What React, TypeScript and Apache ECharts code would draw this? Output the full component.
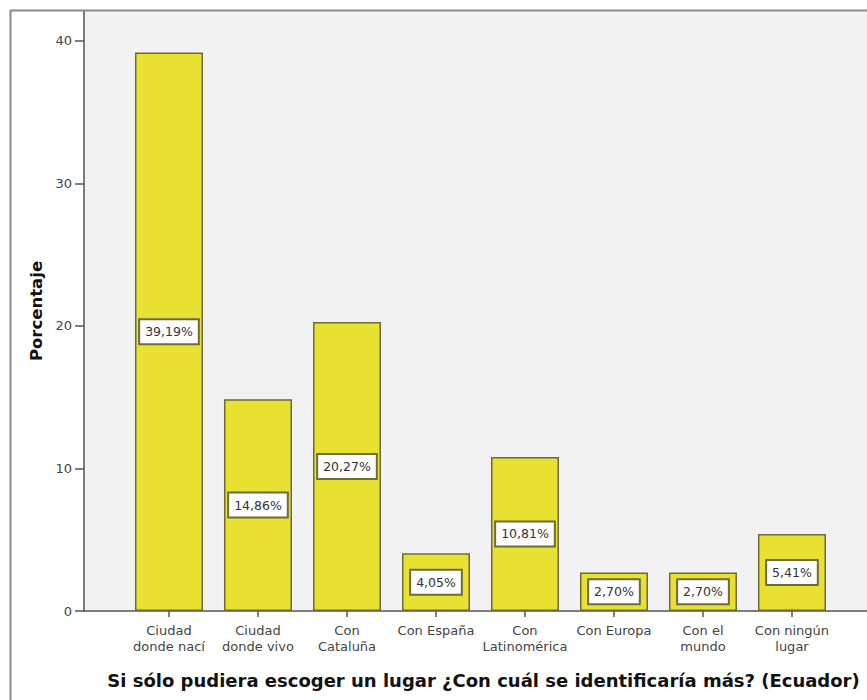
import React, { useEffect, useRef } from "react";
import * as echarts from "echarts";

const categories = [
  "Ciudad\ndonde nací",
  "Ciudad\ndonde vivo",
  "Con\nCataluña",
  "Con España",
  "Con\nLatinomérica",
  "Con Europa",
  "Con el\nmundo",
  "Con ningún\nlugar",
];
const values = [39.19, 14.86, 20.27, 4.05, 10.81, 2.7, 2.7, 5.41];
const yTicks = [0, 10, 20, 30, 40];
const xTitle = "Si sólo pudiera escoger un lugar ¿Con cuál se identificaría más? (Ecuador)";
const yTitle = "Porcentaje";

const FONT = "DejaVu Sans, Verdana, sans-serif";

export default function App() {
  const ref = useRef<HTMLDivElement>(null);
  useEffect(() => {
    if (!ref.current) return;
    const chart = echarts.init(ref.current, null, { renderer: "svg" });
    const idx = categories.map((_, i) => i);
    chart.setOption({
      animation: false,
      backgroundColor: "#ffffff",
      textStyle: { fontFamily: FONT },
      graphic: [
        {
          type: "rect",
          shape: { x: 10.5, y: 10.5, width: 900, height: 720 },
          style: { fill: "none", stroke: "#8a8a8a", lineWidth: 2 },
          z: 100,
          silent: true,
        },
      ],
      grid: {
        left: 84,
        top: 11,
        right: 0,
        bottom: 89,
        show: true,
        backgroundColor: "#f2f2f2",
        borderWidth: 0,
      },
      xAxis: {
        type: "value",
        min: -0.955,
        max: 7.843,
        name: xTitle,
        nameLocation: "middle",
        nameGap: 60,
        nameTextStyle: {
          fontSize: 18,
          fontWeight: "bold",
          color: "#111",
          fontFamily: FONT,
          padding: [0, 0, 0, 16],
        },
        axisLine: { show: true, onZero: false, lineStyle: { color: "#555", width: 1.5 } },
        axisTick: {
          show: true,
          customValues: idx,
          length: 6,
          lineStyle: { color: "#555", width: 1.5 },
        },
        axisLabel: {
          customValues: idx,
          formatter: (v: number) => categories[Math.round(v)] ?? "",
          fontSize: 13,
          lineHeight: 16,
          color: "#444",
          margin: 11,
          fontFamily: FONT,
        },
        splitLine: { show: false },
      },
      yAxis: {
        type: "value",
        min: 0,
        max: 42.1,
        name: yTitle,
        nameLocation: "middle",
        nameGap: 30,
        nameRotate: 90,
        nameTextStyle: {
          fontSize: 16.5,
          fontWeight: "bold",
          color: "#111",
          fontFamily: FONT,
        },
        axisLine: { show: true, onZero: false, lineStyle: { color: "#555", width: 1.5 } },
        axisTick: {
          show: true,
          customValues: yTicks,
          length: 9,
          lineStyle: { color: "#555", width: 1.5 },
        },
        axisLabel: {
          customValues: yTicks,
          fontSize: 13,
          color: "#444",
          margin: 12,
          fontFamily: FONT,
        },
        splitLine: { show: false },
      },
      series: [
        {
          type: "bar",
          barWidth: 68,
          data: values.map((v, i) => [i, v]),
          itemStyle: {
            color: "#e9e132",
            borderColor: "#6e6a3c",
            borderWidth: 1.5,
          },
          label: {
            show: true,
            position: "inside",
            formatter: (p: any) => p.value[1].toFixed(2).replace(".", ",") + "%",
            fontSize: 12.5,
            fontFamily: FONT,
            color: "#333",
            backgroundColor: "#ffffff",
            borderColor: "#6e6a3c",
            borderWidth: 2,
            padding: [5, 5],
          },
        },
      ],
    });
    return () => chart.dispose();
  }, []);
  return (
    <div
      ref={ref}
      style={{ position: "absolute", left: 0, top: 0, width: 867, height: 700 }}
    />
  );
}
